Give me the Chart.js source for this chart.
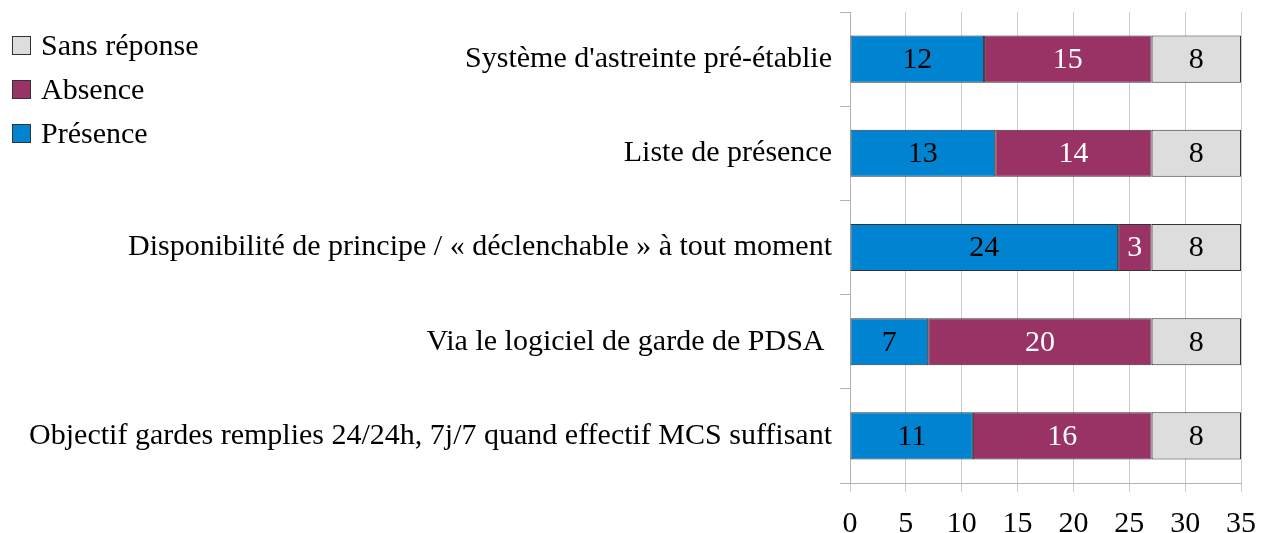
<!DOCTYPE html>
<html>
<head>
<meta charset="utf-8">
<script src="https://cdn.jsdelivr.net/npm/chart.js@4.4.0/dist/chart.umd.min.js"></script>
<style>
    body { margin: 0; background: #fff; }
    #wrap { position: relative; width: 1270px; height: 533px; }
    #legend { position: absolute; left: 12px; top: 23px; font-family: "Liberation Serif", serif; font-size: 30px; color: #000; }
    .item { display: flex; align-items: center; height: 44px; }
    .box { width: 17px; height: 17px; border: 1px solid #333; margin-right: 10px; }
</style>
</head>
<body>
<div id="wrap">
    <canvas id="chart" width="1270" height="533"></canvas>
    <div id="legend"></div>
</div>
<script>
// Data
const categories = [
    "Système d'astreinte pré-établie",
    'Liste de présence',
    'Disponibilité de principe / « déclenchable » à tout moment',
    'Via le logiciel de garde de PDSA ',
    'Objectif gardes remplies 24/24h, 7j/7 quand effectif MCS suffisant'
];
const presence = [12, 13, 24, 7, 11];
const absence = [15, 14, 3, 20, 16];
const sansReponse = [8, 8, 8, 8, 8];
const xTicks = [0, 5, 10, 15, 20, 25, 30, 35];

const FONT = '"Liberation Serif", serif';
const colors = {
    presence: '#0084d1',
    absence: '#993366',
    sans: '#dddddd'
};

// Legend (reversed order like the original)
const legendItems = [
    { label: 'Sans réponse', color: colors.sans },
    { label: 'Absence', color: colors.absence },
    { label: 'Présence', color: colors.presence }
];
const legendEl = document.getElementById('legend');
legendItems.forEach(item => {
    const row = document.createElement('div');
    row.className = 'item';
    row.innerHTML = '<span class="box" style="background:' + item.color + '"></span><span>' + item.label + '</span>';
    legendEl.appendChild(row);
});

// Value labels inside bars
const valueLabels = {
    id: 'valueLabels',
    afterDatasetsDraw(chart) {
        const ctx = chart.ctx;
        ctx.save();
        ctx.font = '30px ' + FONT;
        ctx.textAlign = 'center';
        ctx.textBaseline = 'middle';
        chart.data.datasets.forEach((ds, i) => {
            const meta = chart.getDatasetMeta(i);
            meta.data.forEach((bar, j) => {
                const v = ds.data[j];
                if (!v) return;
                const left = Math.min(bar.x, bar.base);
                const right = Math.max(bar.x, bar.base);
                ctx.fillStyle = ds.labelColor;
                ctx.fillText(String(v), (left + right) / 2, bar.y + 1);
            });
        });
        ctx.restore();
    }
};

const barCommon = {
    borderColor: '#333333',
    borderWidth: 1,
    borderSkipped: false,
    categoryPercentage: 0.5,
    barPercentage: 1
};

new Chart(document.getElementById('chart'), {
    type: 'bar',
    data: {
        labels: categories,
        datasets: [
            Object.assign({ label: 'Présence', data: presence, backgroundColor: colors.presence, labelColor: '#000' }, barCommon),
            Object.assign({ label: 'Absence', data: absence, backgroundColor: colors.absence, labelColor: '#fff' }, barCommon),
            Object.assign({ label: 'Sans réponse', data: sansReponse, backgroundColor: colors.sans, labelColor: '#000' }, barCommon)
        ]
    },
    options: {
        indexAxis: 'y',
        responsive: false,
        animation: false,
        layout: { padding: { top: 12, right: 29, left: 0, bottom: 0 } },
        plugins: {
            legend: { display: false },
            tooltip: { enabled: false }
        },
        scales: {
            x: {
                stacked: true,
                min: 0,
                max: 35,
                afterBuildTicks: scale => { scale.ticks = xTicks.map(v => ({ value: v })); },
                grid: { color: '#cccccc', lineWidth: 1, tickLength: 9 },
                border: { color: '#b3b3b3' },
                ticks: { font: { family: FONT, size: 30 }, color: '#000', padding: 14, maxRotation: 0 },
                afterFit: scale => { scale.height = 50; scale.paddingLeft = 0; scale.paddingRight = 0; }
            },
            y: {
                stacked: true,
                grid: { offset: true, drawOnChartArea: false, color: '#b3b3b3', tickLength: 10 },
                border: { color: '#b3b3b3' },
                ticks: { font: { family: FONT, size: 30 }, color: '#000', padding: 8, autoSkip: false },
                afterFit: scale => { scale.width = 850; scale.paddingTop = 0; scale.paddingBottom = 0; }
            }
        }
    },
    plugins: [valueLabels]
});
</script>
</body>
</html>
